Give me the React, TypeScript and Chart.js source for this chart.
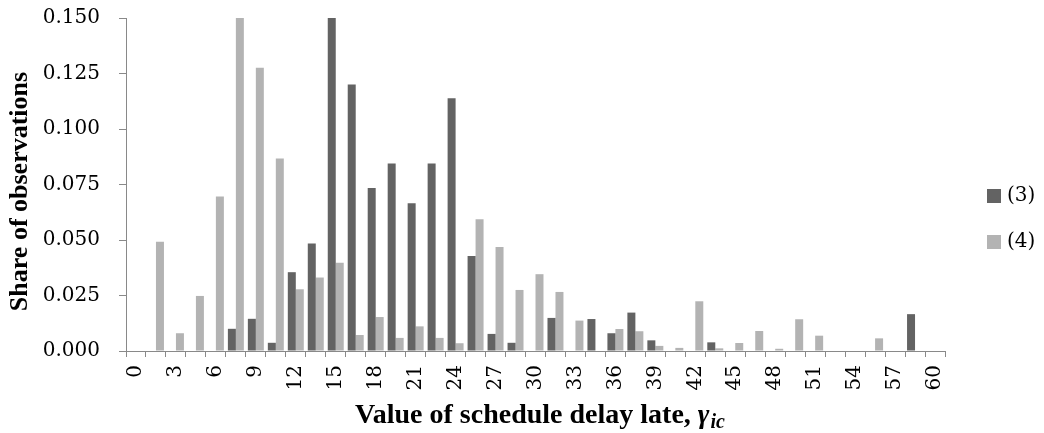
import React, { useEffect, useRef } from "react";
import { Chart, registerables } from "chart.js";

Chart.register(...registerables);

const categories: string[] = [
  "0", "1.5", "3", "4.5", "6", "7.5", "9", "10.5", "12", "13.5", "15", "16.5", "18", "19.5",
  "21", "22.5", "24", "25.5", "27", "28.5", "30", "31.5", "33", "34.5", "36", "37.5", "39",
  "40.5", "42", "43.5", "45", "46.5", "48", "49.5", "51", "52.5", "54", "55.5", "57", "58.5", "60",
];

const shownTicks: string[] = [
  "0", "3", "6", "9", "12", "15", "18", "21", "24", "27", "30", "33", "36", "39", "42", "45",
  "48", "51", "54", "57", "60",
];

const seriesNames: string[] = ["(3)", "(4)"];

const series3: number[] = [
  0, 0, 0, 0, 0, 0.010, 0.0145, 0.0037, 0.0355, 0.0484, 0.150, 0.120, 0.0734, 0.0845, 0.0666,
  0.0845, 0.1138, 0.0428, 0.0077, 0.0037, 0, 0.0149, 0, 0.0144, 0.0080, 0.0173, 0.0048, 0, 0,
  0.0039, 0, 0, 0, 0, 0, 0, 0, 0, 0, 0.0166, 0,
];

const series4: number[] = [
  0, 0.0492, 0.0080, 0.0248, 0.0696, 0.150, 0.1276, 0.0867, 0.0278, 0.0331, 0.0398, 0.0072,
  0.0153, 0.0059, 0.0111, 0.0059, 0.0035, 0.0594, 0.0468, 0.0275, 0.0346, 0.0266, 0.0137, 0,
  0.0099, 0.0089, 0.0023, 0.0014, 0.0224, 0.0012, 0.0036, 0.0090, 0.0010, 0.0143, 0.0069, 0, 0,
  0.0057, 0, 0, 0,
];

const yTitle = "Share of observations";
const xTitleMain = "Value of schedule delay late, ";
const xTitleSymbol = "γ";
const xTitleSub = "ic";

const DARK = "#636363";
const LIGHT = "#b3b3b3";
const AXIS = "#898989";
const TICK_FONT = "'DejaVu Serif', serif";
const TITLE_FONT = "'Liberation Serif', serif";

const decorPlugin = {
  id: "decor",
  afterDraw(chart: any) {
    const ctx = chart.ctx as CanvasRenderingContext2D;
    const area = chart.chartArea;
    ctx.save();
    ctx.fillStyle = "#000";

    // y title
    ctx.save();
    ctx.translate(20, (area.top + area.bottom) / 2 + 7);
    ctx.rotate(-Math.PI / 2);
    ctx.font = `bold 26px ${TITLE_FONT}`;
    ctx.textAlign = "center";
    ctx.textBaseline = "middle";
    ctx.fillText(yTitle, 0, 0);
    ctx.restore();

    // x title with italic subscript
    ctx.textAlign = "left";
    ctx.textBaseline = "alphabetic";
    const fMain = `bold 28px ${TITLE_FONT}`;
    const fSym = `italic bold 28px ${TITLE_FONT}`;
    const fSub = `italic bold 20px ${TITLE_FONT}`;
    ctx.font = fMain;
    const w1 = ctx.measureText(xTitleMain).width;
    ctx.font = fSym;
    const w2 = ctx.measureText(xTitleSymbol).width;
    ctx.font = fSub;
    const w3 = ctx.measureText(xTitleSub).width;
    const total = w1 + w2 + w3;
    const cx = (area.left + area.right) / 2 + 4;
    let x = cx - total / 2;
    const baseY = 423;
    ctx.font = fMain;
    ctx.fillText(xTitleMain, x, baseY);
    x += w1;
    ctx.font = fSym;
    ctx.fillText(xTitleSymbol, x, baseY);
    x += w2 + 1;
    ctx.font = fSub;
    ctx.fillText(xTitleSub, x, baseY + 5);

    // legend
    const items = chart.data.datasets;
    const lx = area.right + 42;
    const ys = [196, 242];
    ctx.font = `20px ${TICK_FONT}`;
    ctx.textBaseline = "middle";
    items.forEach((ds: any, i: number) => {
      const y = ys[i];
      ctx.fillStyle = ds.backgroundColor;
      ctx.fillRect(lx, y - 7, 14, 14);
      ctx.fillStyle = "#000";
      ctx.fillText(ds.label, lx + 20, y);
    });
    ctx.restore();
  },
};

export default function App() {
  const ref = useRef<HTMLCanvasElement | null>(null);

  useEffect(() => {
    if (!ref.current) return;
    const chart = new Chart(ref.current, {
      type: "bar",
      data: {
        labels: categories,
        datasets: [
          { label: seriesNames[0], data: series3, backgroundColor: DARK, borderWidth: 0 },
          { label: seriesNames[1], data: series4, backgroundColor: LIGHT, borderWidth: 0 },
        ],
      },
      options: {
        responsive: false,
        animation: false,
        maintainAspectRatio: false,
        layout: { padding: { left: 0, right: 99, top: 18, bottom: 0 } },
        datasets: { bar: { categoryPercentage: 0.8, barPercentage: 1.0 } },
        plugins: {
          legend: { display: false },
          tooltip: { enabled: false },
          title: { display: false },
        },
        scales: {
          x: {
            type: "category",
            offset: true,
            grid: {
              offset: true,
              drawOnChartArea: false,
              drawTicks: true,
              tickLength: 6,
              color: AXIS,
            },
            border: { display: true, color: AXIS, width: 1 },
            ticks: {
              autoSkip: false,
              maxRotation: 90,
              minRotation: 90,
              padding: 8,
              color: "#000",
              font: { family: TICK_FONT, size: 20 },
              callback: (_v: any, i: number) =>
                shownTicks.includes(categories[i]) ? categories[i] : "",
            },
            afterFit: (scale: any) => {
              scale.height = 82;
              scale.paddingLeft = 0;
              scale.paddingRight = 0;
            },
          },
          y: {
            min: 0,
            max: 0.15,
            grid: {
              drawOnChartArea: false,
              drawTicks: true,
              tickLength: 7,
              color: AXIS,
            },
            border: { display: true, color: AXIS, width: 1 },
            ticks: {
              stepSize: 0.025,
              padding: 19,
              color: "#000",
              font: { family: TICK_FONT, size: 20 },
              callback: (v: any) => Number(v).toFixed(3),
            },
            afterFit: (scale: any) => {
              scale.width = 126;
              scale.paddingTop = 0;
              scale.paddingBottom = 0;
            },
          },
        },
      },
      plugins: [decorPlugin],
    });
    return () => chart.destroy();
  }, []);

  return (
    <div style={{ position: "fixed", left: 0, top: 0, width: 1044, height: 433, background: "#fff" }}>
      <canvas ref={ref} width={1044} height={433} style={{ display: "block" }} />
    </div>
  );
}
